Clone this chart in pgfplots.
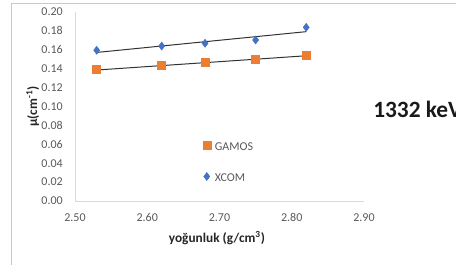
\documentclass[border=0pt]{standalone}
\usepackage{pgfplots}
\pgfplotsset{compat=1.18}
\usepackage{fontspec}
\setmainfont{Carlito}
\definecolor{gamos}{HTML}{ED7D31}
\definecolor{xcom}{HTML}{4472C4}
\definecolor{axgray}{HTML}{D9D9D9}
\definecolor{txtgray}{HTML}{595959}
\definecolor{framegray}{HTML}{C8C8C8}
\begin{document}
\begin{tikzpicture}
\path[use as bounding box] (0,0) rectangle (342pt,198.75pt);
\begin{scope}
\clip (0,0) rectangle (342pt,198.75pt);
\draw[framegray, line width=0.75pt] (8.25pt,0) -- (8.25pt,196.5pt) -- (345pt,196.5pt);
\node[anchor=west, font=\fontsize{17.5}{19}\selectfont\bfseries, inner sep=0pt, text=black!90] at (279.75pt,116.5pt) {1332 keV};
\end{scope}
\begin{axis}[
  at={(56.25pt,48pt)}, anchor=south west,
  width=216.75pt, height=141.75pt, scale only axis,
  xmin=2.5, xmax=2.9, ymin=0, ymax=0.2,
  xtick={2.5,2.6,2.7,2.8,2.9},
  ytick={0,0.02,0.04,0.06,0.08,0.1,0.12,0.14,0.16,0.18,0.2},
  axis x line*=bottom, axis y line*=left,
  axis line style={axgray, line width=0.75pt, -},
  major tick length=0pt,
  tick label style={font=\fontsize{9}{11}\selectfont, text=txtgray,
    /pgf/number format/fixed, /pgf/number format/fixed zerofill,
    /pgf/number format/precision=2, /pgf/number format/assume math mode=true},
  yticklabel style={anchor=east, inner sep=0pt, xshift=-9pt},
  xticklabel style={anchor=north, inner sep=0pt, yshift=-9pt},
  xlabel={yoğunluk (g/cm\textsuperscript{3})},
  ylabel={µ(cm\textsuperscript{-1})},
  xlabel style={font=\fontsize{10}{12}\selectfont\bfseries, text=black!85, at={(axis description cs:0.491,-0.196)}, anchor=center},
  ylabel style={font=\fontsize{10}{12}\selectfont\bfseries, text=black!85, at={(axis description cs:-0.146,0.5)}, anchor=center},
  legend image code/.code={\draw[#1] plot coordinates {(0pt,1.4pt)};},
  legend cell align=left,
  legend style={at={(axis cs:2.6765,0.063)}, anchor=north west, draw=none, fill=none,
    inner sep=0pt, row sep=15pt, column sep=3pt, nodes={inner sep=0pt},
    font=\fontsize{9}{11}\selectfont, text=txtgray},
  clip=false,
]
\addplot[only marks, mark=square*, mark size=3pt, color=gamos] coordinates {
  (2.53,0.139) (2.62,0.1436) (2.68,0.1467) (2.75,0.1499) (2.82,0.1538)};
\addlegendentry{GAMOS}
\addplot[only marks, mark=diamond*, mark size=3pt, color=xcom] coordinates {
  (2.53,0.1595) (2.62,0.164) (2.68,0.1669) (2.75,0.1704) (2.82,0.1838)};
\addlegendentry{XCOM}
\addplot[forget plot, no marks, black!80, line width=0.75pt] coordinates {(2.53,0.1386) (2.82,0.1537)};
\addplot[forget plot, no marks, black!80, line width=0.75pt] coordinates {(2.53,0.1572) (2.82,0.1792)};
\end{axis}
\end{tikzpicture}
\end{document}
